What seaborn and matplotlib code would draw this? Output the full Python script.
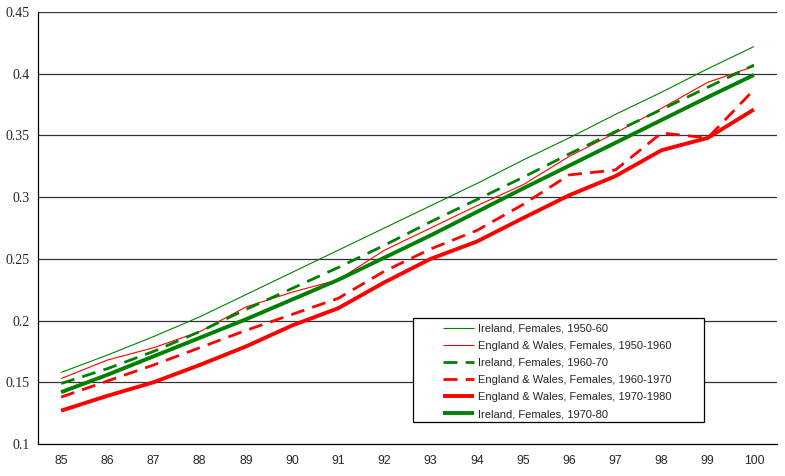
import matplotlib
matplotlib.use("Agg")
import matplotlib.pyplot as plt
import seaborn as sns
import pandas as pd
from matplotlib.patches import Rectangle
from matplotlib.ticker import FixedLocator

ages = list(range(85, 101))
irl_5060 = [.158, .172, .187, .203, .221, .239, .257, .275, .293, .311, .330, .348, .367, .385, .404, .422]
ew_5060 = [.153, .168, .178, .191, .211, .223, .233, .257, .275, .293, .310, .333, .352, .372, .393, .406]
irl_6070 = [.149, .161, .175, .191, .209, .226, .243, .261, .280, .298, .316, .335, .353, .371, .389, .407]
ew_6070 = [.138, .151, .164, .178, .192, .205, .218, .240, .258, .273, .294, .318, .322, .352, .348, .387]
ew_7080 = [.127, .139, .150, .164, .179, .196, .210, .231, .250, .264, .283, .3015, .317, .338, .348, .371]
irl_7080 = [.142, .156, .171, .186, .201, .217, .233, .251, .269, .288, .307, .3255, .344, .3625, .381, .399]

labels = ["Ireland, Females, 1950-60", "England & Wales, Females, 1950-1960",
          "Ireland, Females, 1960-70", "England & Wales, Females, 1960-1970",
          "England & Wales, Females, 1970-1980", "Ireland, Females, 1970-80"]
series = [irl_5060, ew_5060, irl_6070, ew_6070, ew_7080, irl_7080]
colors = ["#008000", "#ff0000", "#008000", "#ff0000", "#ff0000", "#008000"]
widths = [0.8, 0.8, 2.0, 2.0, 2.8, 2.8]
dashed = [False, False, True, True, False, False]

sns.set_style("white")
fig = plt.figure(figsize=(7.85, 4.76), dpi=100)
ax = fig.add_axes([38/785, 1-444/476, (777-38)/785, (444-12)/476])

for lab, vals, c, w, d in zip(labels, series, colors, widths, dashed):
    df = pd.DataFrame({"age": ages, "q": vals})
    sns.lineplot(data=df, x="age", y="q", ax=ax, color=c, linewidth=w, label=lab)
    line = ax.get_lines()[-1]
    if d:
        line.set_dashes((5, 3))
    line.set_solid_capstyle("butt")
    line.set_dash_capstyle("butt")

ax.set_xlim(84.5, 100.5)
ax.set_ylim(0.1, 0.45)
yt = [0.1, 0.15, 0.2, 0.25, 0.3, 0.35, 0.4, 0.45]
ax.set_yticks(yt)
ax.set_yticklabels([f"{v:g}" for v in yt], family="Liberation Serif", fontsize=10)
for v in yt[1:]:
    ax.axhline(v, color="#333333", linewidth=0.9, zorder=0)
ax.set_xticks(ages)
ax.set_xticklabels([str(a) for a in ages], family="Liberation Sans", fontsize=8.8)
ax.xaxis.set_minor_locator(FixedLocator([a - 0.5 for a in ages] + [100.5]))
ax.tick_params(axis="x", which="major", length=0, pad=8)
ax.tick_params(axis="x", which="minor", length=4, width=0.8, color="black", direction="out")
ax.tick_params(axis="y", which="major", length=4, width=0.8, color="black", direction="out", pad=2)
ax.set_xlabel("")
ax.set_ylabel("")
for s in ["top", "right"]:
    ax.spines[s].set_visible(False)
for s in ["left", "bottom"]:
    ax.spines[s].set_color("black")
    ax.spines[s].set_linewidth(0.9)

leg = ax.legend(loc="upper left", bbox_to_anchor=((447-38)/739 - 0.005, (444-323.5)/432),
                frameon=False, prop={"family": "Liberation Sans", "size": 8},
                handlelength=2.8, handletextpad=0.3, labelspacing=0.64, borderpad=0,
                borderaxespad=0)
x0 = (413-38)/739
y0 = (444-422)/432
ax.add_patch(Rectangle((x0, y0), (704-413)/739, (422-318)/432, transform=ax.transAxes,
                       facecolor="white", edgecolor="black", linewidth=0.9, zorder=4))
leg.set_zorder(5)

fig.savefig("out.png", dpi=100, facecolor="white")
